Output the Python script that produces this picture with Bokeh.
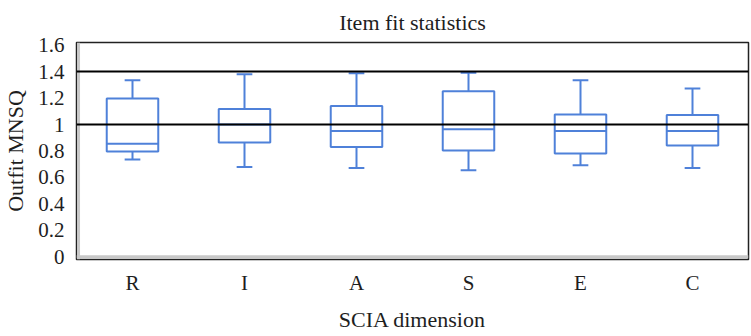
from bokeh.plotting import figure
from bokeh.models import ColumnDataSource, Span, FixedTicker
from bokeh.transform import dodge
from bokeh.embed import file_html
from bokeh.resources import INLINE

# ---- data ----
categories = ["R", "I", "A", "S", "E", "C"]
whisker_low = [0.736, 0.680, 0.672, 0.655, 0.693, 0.672]
q1 = [0.796, 0.864, 0.831, 0.804, 0.781, 0.842]
median = [0.854, 1.000, 0.952, 0.965, 0.952, 0.952]
q3 = [1.196, 1.118, 1.140, 1.251, 1.075, 1.072]
whisker_high = [1.334, 1.380, 1.387, 1.392, 1.334, 1.272]
reference_lines = [1.0, 1.4]
y_ticks = [0, 0.2, 0.4, 0.6, 0.8, 1.0, 1.2, 1.4, 1.6]
y_tick_labels = ["0", "0.2", "0.4", "0.6", "0.8", "1", "1.2", "1.4", "1.6"]

FONT = "Liberation Serif"
BLUE = "#4f81d9"
TXT = "#1e1e1e"

src = ColumnDataSource(dict(cat=categories, lo=whisker_low, q1=q1, med=median,
                            q3=q3, hi=whisker_high))

p = figure(width=751, height=336, x_range=categories, y_range=(-0.02, 1.62),
           output_backend="svg", toolbar_location=None,
           title="Item fit statistics",
           min_border_left=76, min_border_right=3, min_border_top=41,
           min_border_bottom=77)

p.title.align = "center"
p.title.text_font = FONT
p.title.text_font_size = "22px"
p.title.text_font_style = "normal"
p.title.text_color = TXT
p.title.offset = 0
p.title.standoff = 15

p.xgrid.visible = False
p.ygrid.visible = False
p.background_fill_color = "white"
p.border_fill_color = "white"
p.outline_line_color = "#222222"
p.outline_line_width = 1.5

# whiskers
p.segment(x0="cat", y0="q3", x1="cat", y1="hi", source=src, line_color=BLUE, line_width=2)
p.segment(x0="cat", y0="lo", x1="cat", y1="q1", source=src, line_color=BLUE, line_width=2)
# caps
p.segment(x0=dodge("cat", -0.07, range=p.x_range), y0="hi",
          x1=dodge("cat", 0.07, range=p.x_range), y1="hi",
          source=src, line_color=BLUE, line_width=2)
p.segment(x0=dodge("cat", -0.07, range=p.x_range), y0="lo",
          x1=dodge("cat", 0.07, range=p.x_range), y1="lo",
          source=src, line_color=BLUE, line_width=2)
# boxes
p.vbar(x="cat", bottom="q1", top="q3", width=0.46, source=src,
       fill_color="white", line_color=BLUE, line_width=2)
# medians
p.segment(x0=dodge("cat", -0.23, range=p.x_range), y0="med",
          x1=dodge("cat", 0.23, range=p.x_range), y1="med",
          source=src, line_color=BLUE, line_width=2)

# gray inner shadow lines
p.add_layout(Span(location=0, dimension="width", line_color="#c8c8c8", line_width=3))
p.add_layout(Span(location=0.018, dimension="height", line_color="#c8c8c8", line_width=3))

for r in reference_lines:
    p.add_layout(Span(location=r, dimension="width", line_color="black", line_width=2))

# axes
p.yaxis.ticker = FixedTicker(ticks=y_ticks)
p.yaxis.major_label_overrides = {t: l for t, l in zip(y_ticks, y_tick_labels)}
for ax in (p.xaxis[0], p.yaxis[0]):
    ax.axis_line_color = None
    ax.major_tick_line_color = None
    ax.minor_tick_line_color = None
    ax.major_tick_out = 0
    ax.major_tick_in = 0
    ax.major_label_text_font = FONT
    ax.major_label_text_font_size = "21px"
    ax.major_label_text_color = TXT
    ax.axis_label_text_font = FONT
    ax.axis_label_text_font_size = "22px"
    ax.axis_label_text_font_style = "normal"
    ax.axis_label_text_color = TXT

p.yaxis.axis_label = "Outfit MNSQ"
p.yaxis.major_label_standoff = 12
p.yaxis.axis_label_standoff = 7
p.xaxis.axis_label = "SCIA dimension"
p.xaxis.major_label_standoff = 11
p.xaxis.axis_label_standoff = 9

open("out.html", "w").write(file_html(p, INLINE))
